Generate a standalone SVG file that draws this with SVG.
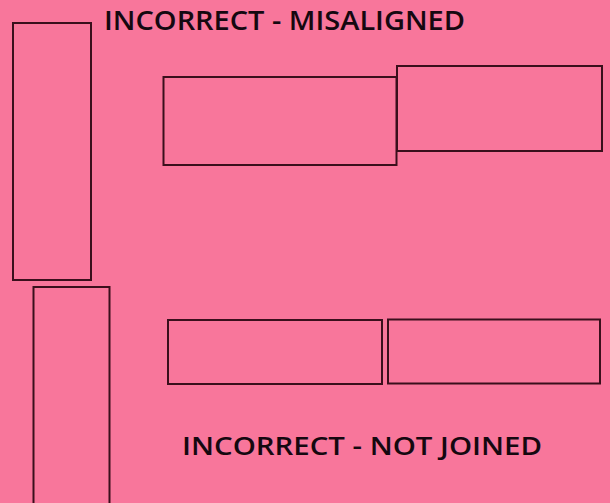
<svg xmlns="http://www.w3.org/2000/svg" width="610" height="503" viewBox="0 0 610 503">
<style>
.bg{fill:#f8769b}
.box{fill:none;stroke:#3a0f1c;stroke-width:2}
.lbl{font-family:"Open Sans","DejaVu Sans","Liberation Sans",sans-serif;fill:#150810;font-weight:600}
</style>
<rect class="bg" x="0" y="0" width="610" height="503"/>
<g id="title-misaligned"><text class="lbl" x="104" y="29.5" font-size="27" textLength="361" lengthAdjust="spacingAndGlyphs">INCORRECT - MISALIGNED</text></g>
<g id="post-top"><rect class="box" x="13" y="23" width="78" height="257"/></g>
<g id="beam-low"><rect class="box" x="163.5" y="77" width="233" height="88"/></g>
<g id="beam-high"><rect class="box" x="397" y="66" width="205" height="85"/></g>
<g id="post-bottom"><rect class="box" x="33.5" y="287" width="76" height="230"/></g>
<g id="beam-left"><rect class="box" x="168" y="320" width="214" height="64"/></g>
<g id="beam-right"><rect class="box" x="388" y="319.5" width="212" height="64"/></g>
<g id="title-notjoined"><text class="lbl" x="182" y="455" font-size="25" textLength="360" lengthAdjust="spacingAndGlyphs">INCORRECT - NOT JOINED</text></g>
<g id="connectors"></g>
</svg>
